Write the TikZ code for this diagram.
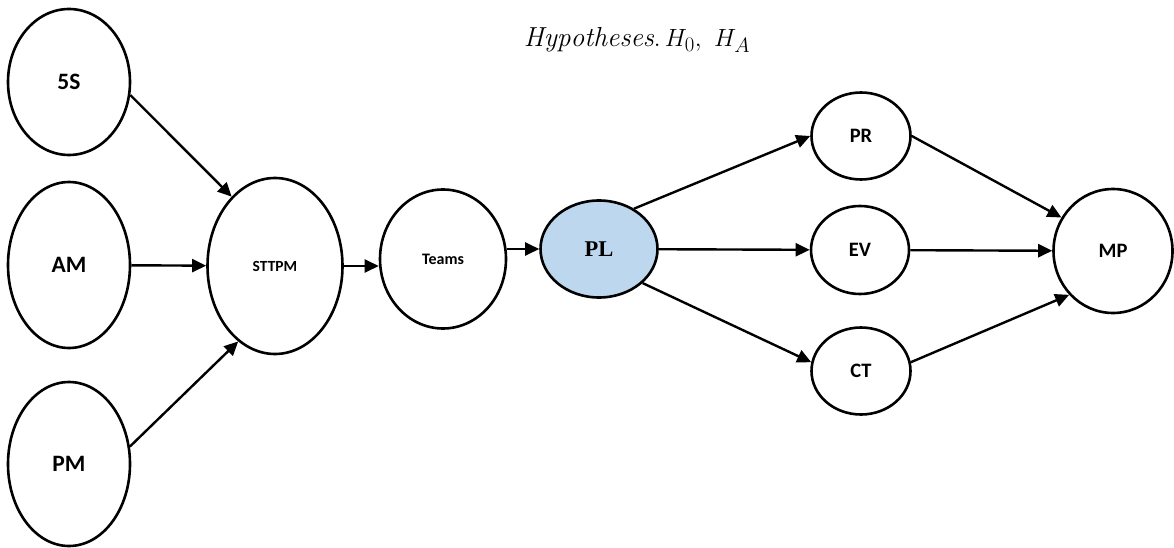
\documentclass[tikz,border=0pt]{standalone}
\usepackage{fontspec}
\setsansfont{Carlito}
\newfontfamily\serifbold{Liberation Serif}
\usetikzlibrary{shapes.geometric,arrows.meta}

\begin{document}
\begin{tikzpicture}[x=1pt,y=-1pt,
  oval/.style={ellipse,draw=black,line width=2.6pt,fill=white,inner sep=0pt,
    font=\sffamily\bfseries},
  big/.style={font=\fontsize{23.5}{26}\selectfont\sffamily\bfseries},
  mid/.style={font=\fontsize{20.5}{24}\selectfont\sffamily\bfseries},
  small/.style={font=\fontsize{15.5}{18}\selectfont\sffamily\bfseries},
  link/.style={line width=2.4pt,-{Triangle[length=14pt,width=13pt]}}]
\useasboundingbox (0,0) rectangle (1174,548);

% input constructs
\node[oval,big,minimum width=122pt,minimum height=146pt] (s5) at (69,82) {5S};
\node[oval,big,minimum width=122pt,minimum height=166pt] (am) at (69,265) {AM};
\node[oval,big,minimum width=122pt,minimum height=164pt] (pm) at (69,464) {PM};

% mediators
\node[oval,small,minimum width=135pt,minimum height=176pt] (sttpm) at (275,266) {STTPM};
\node[oval,small,font=\fontsize{16}{19}\selectfont\sffamily\bfseries,
  minimum width=126pt,minimum height=139pt] (teams) at (443,259) {Teams};
\node[oval,fill={rgb,255:red,189;green,215;blue,238},
  font=\fontsize{22.5}{26}\selectfont\serifbold\bfseries,
  minimum width=117pt,minimum height=97pt] (pl) at (599,249) {PL};

% outcomes
\node[oval,mid,minimum width=99pt,minimum height=87pt] (pr) at (861,136) {PR};
\node[oval,mid,minimum width=98pt,minimum height=88pt] (ev) at (860,250) {EV};
\node[oval,mid,minimum width=99pt,minimum height=87pt] (ct) at (861,371) {CT};
\node[oval,mid,minimum width=119pt,minimum height=124pt] (mp) at (1113,251) {MP};

% heading
\node[font=\fontsize{27.5}{32}\selectfont] (hyp) at (637,40)
  {$\mathit{Hypotheses}.\,H_0,\ H_A$};

% connectors
\draw[link] (s5.-12) -- (sttpm.122);
\draw[link] (am) -- (sttpm);
\draw[link] (pm.16) -- (sttpm.244);
\draw[link] (sttpm.east) -- (sttpm.east -| teams.west);
\draw[link] (teams.east |- pl.west) -- (pl.west);
\draw[link] (pl.49) -- (pr.west);
\draw[link] (pl) -- (ev);
\draw[link] (pl.-38) -- (ct.170);
\draw[link] (pr.east) -- (mp.147);
\draw[link] (ev) -- (mp);
\draw[link] (ct.10) -- (mp.225);
\end{tikzpicture}
\end{document}
